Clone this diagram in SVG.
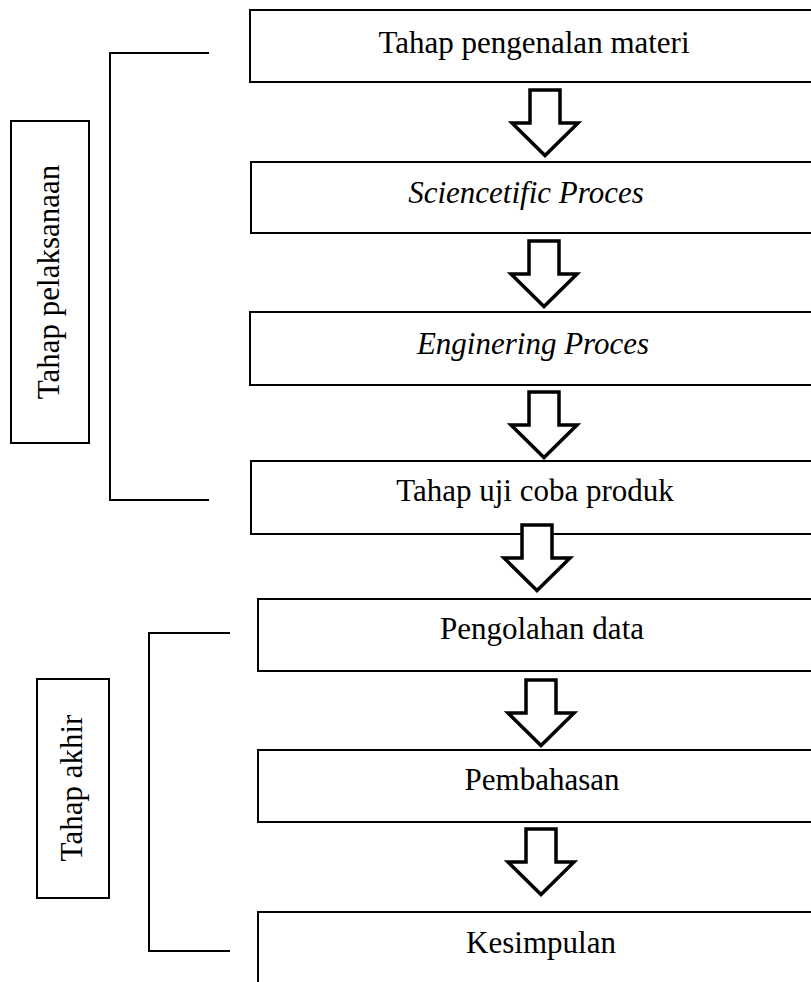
<svg xmlns="http://www.w3.org/2000/svg" width="811" height="982" viewBox="0 0 811 982">
  <style>
    .box { fill: #ffffff; stroke: #000000; stroke-width: 2; }
    .lbl { fill: #ffffff; stroke: #000000; stroke-width: 2; }
    .br { fill: none; stroke: #000000; stroke-width: 2; }
    .t { font-family: "Liberation Serif", "Times New Roman", serif; font-size: 31px; fill: #000000; text-anchor: middle; }
    .it { font-style: italic; }
    .arr { fill: #ffffff; stroke: #000000; stroke-width: 3.5; stroke-linejoin: miter; stroke-miterlimit: 10; }
  </style>
  <defs>
    <path id="bigArrow" d="M-15,2 H15 V35 H33 L0,67.5 L-33,35 H-15 Z"/>
  </defs>
  <rect width="811" height="982" fill="#ffffff"/>

  <g id="n1"><rect class="box" x="250" y="10" width="580" height="72"/><text class="t" x="534" y="53">Tahap pengenalan materi</text></g>
  <g id="n2"><rect class="box" x="251" y="162" width="580" height="71"/><text class="t it" x="526" y="203">Sciencetific Proces</text></g>
  <g id="n3"><rect class="box" x="250" y="312" width="580" height="73"/><text class="t it" x="533" y="354">Enginering Proces</text></g>
  <g id="n4"><rect class="box" x="251" y="461" width="580" height="73"/><text class="t" x="535" y="501">Tahap uji coba produk</text></g>
  <g id="n5"><rect class="box" x="258" y="599" width="580" height="72"/><text class="t" x="542" y="639">Pengolahan data</text></g>
  <g id="n6"><rect class="box" x="258" y="750" width="580" height="72"/><text class="t" x="542" y="790">Pembahasan</text></g>
  <g id="n7"><rect class="box" x="258" y="912" width="580" height="100"/><text class="t" x="541" y="953">Kesimpulan</text></g>

  <g id="stage1">
    <path class="br" d="M209,53 H110 V500 H209"/>
    <rect class="lbl" x="11" y="121" width="78" height="322"/>
    <text class="t" transform="translate(59,282) rotate(-90)" x="0" y="0">Tahap pelaksanaan</text>
  </g>
  <g id="stage2">
    <path class="br" d="M230,633 H149 V951 H230"/>
    <rect class="lbl" x="37" y="679" width="72" height="219"/>
    <text class="t" transform="translate(82,788) rotate(-90)" x="0" y="0">Tahap akhir</text>
  </g>

  <g id="connectors">
    <use href="#bigArrow" class="arr" transform="translate(545,88)"/>
    <use href="#bigArrow" class="arr" transform="translate(544,239)"/>
    <use href="#bigArrow" class="arr" transform="translate(544,390)"/>
    <use href="#bigArrow" class="arr" transform="translate(537,523)"/>
    <use href="#bigArrow" class="arr" transform="translate(541,678)"/>
    <use href="#bigArrow" class="arr" transform="translate(541,827)"/>
  </g>
</svg>
